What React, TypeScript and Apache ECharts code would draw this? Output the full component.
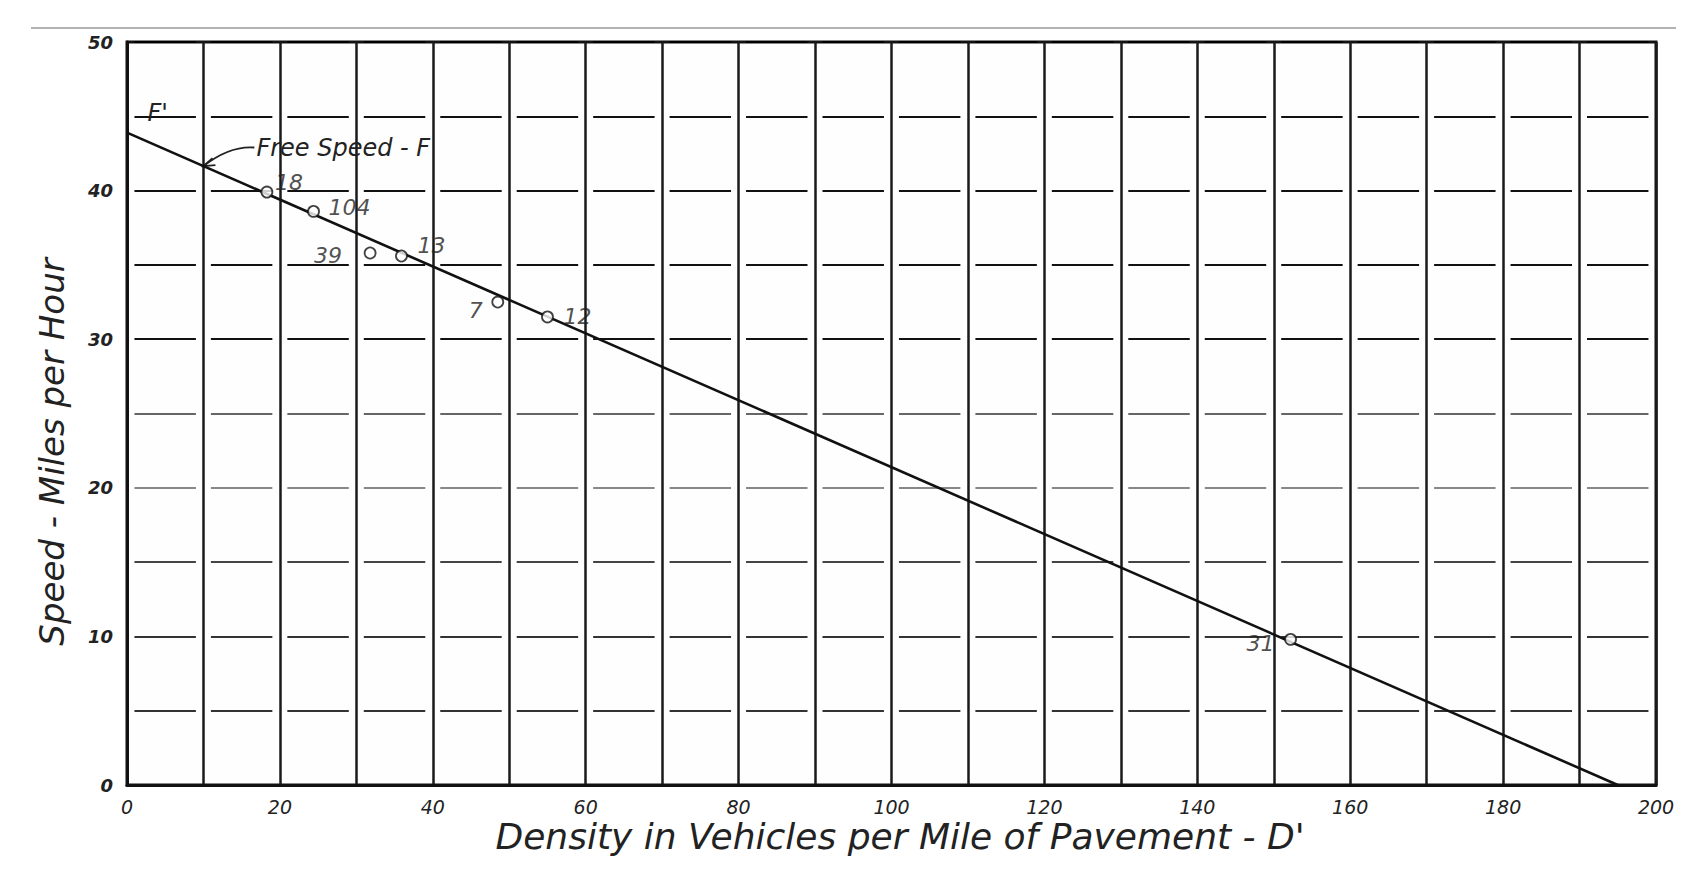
import React, { useEffect, useRef } from "react";
import * as echarts from "echarts";

// Observed points (density D', speed S)
const pointLabels = ["18", "104", "39", "13", "7", "12", "31"];
const pointDensity = [18.3, 24.4, 31.8, 35.9, 48.5, 55.0, 152.2];
const pointSpeed = [39.9, 38.6, 35.8, 35.6, 32.5, 31.5, 9.8];
// Fitted line endpoints
const lineDensity = [0, 195];
const lineSpeed = [43.9, 0];
// Axis ticks
const xTicks = [0, 20, 40, 60, 80, 100, 120, 140, 160, 180, 200];
const yTicks = [0, 10, 20, 30, 40, 50];

const xTitle = "Density in Vehicles per Mile of Pavement - D'";
const yTitle = "Speed - Miles per Hour";

const HAND = "'DejaVu Sans', sans-serif";

const GL = 127, GR = 1656, GT = 42, GB = 785;

export default function App() {
  const ref = useRef<HTMLDivElement>(null);
  useEffect(() => {
    document.body.style.margin = "0";
    const chart = echarts.init(ref.current!, undefined, { renderer: "svg" });
    const cellW = (GR - GL) / 20;
    const gap = 15;
    const labelOffsets: Record<string, [number, number]> = {
      "18": [22, -10],
      "104": [36, -4],
      "39": [-42, 2],
      "13": [30, -10],
      "7": [-22, 8],
      "12": [30, 0],
      "31": [-30, 4],
    };
    const hColors = ["#000", "#333", "#333", "#444", "#888", "#666", "#111", "#111", "#111", "#111", "#000"];
    chart.setOption({
      animation: false,
      backgroundColor: "#fff",
      grid: {
        left: GL,
        right: 1696 - GR,
        top: GT,
        bottom: 876 - GB,
        show: true,
        borderColor: "#111",
        borderWidth: 3,
        backgroundColor: "#fefefe",
      },
      xAxis: {
        type: "value",
        min: 0,
        max: 200,
        interval: 10,
        axisLine: { show: true, lineStyle: { color: "#111", width: 3 } },
        axisTick: { show: false },
        splitLine: { show: true, lineStyle: { color: "#1a1a1a", width: 2.5 } },
        axisLabel: {
          formatter: (v: number) => (xTicks.includes(v) ? String(v) : ""),
          color: "#222",
          fontFamily: HAND,
          fontStyle: "italic",
          fontSize: 19,
          margin: 12,
        },
      },
      yAxis: {
        type: "value",
        min: 0,
        max: 50,
        interval: 5,
        axisLine: { show: true, lineStyle: { color: "#111", width: 3 } },
        axisTick: { show: false },
        splitLine: {
          show: true,
          lineStyle: {
            color: hColors,
            width: 2.1,
            type: [cellW - gap, gap],
            dashOffset: cellW - gap / 2,
          },
        },
        axisLabel: {
          formatter: (v: number) => (yTicks.includes(v) ? String(v) : ""),
          color: "#222",
          fontFamily: HAND,
          fontStyle: "italic",
          fontWeight: "bold",
          fontSize: 18,
          margin: 14,
        },
      },
      series: [
        {
          type: "line",
          data: lineDensity.map((d, i) => [d, lineSpeed[i]]),
          symbol: "none",
          lineStyle: { color: "#111", width: 2.6 },
          z: 3,
        },
        {
          type: "scatter",
          data: pointDensity.map((d, i) => ({
            value: [d, pointSpeed[i]],
            name: pointLabels[i],
            label: {
              show: true,
              formatter: pointLabels[i],
              position: "inside",
              offset: labelOffsets[pointLabels[i]],
              color: "#222",
              fontFamily: HAND,
              fontStyle: "italic",
              fontSize: 22,
            },
          })),
          symbol: "circle",
          symbolSize: 11,
          itemStyle: { color: "#fff", borderColor: "#111", borderWidth: 1.8 },
          z: 4,
        },
      ],
    });

    const p = (d: number, s: number) => chart.convertToPixel({ gridIndex: 0 }, [d, s]) as number[];
    const arrowTip = p(10, 41.65);
    const textStart = p(16.4, 42.9);
    const fPrime = p(4.0, 45);
    chart.setOption({
      graphic: [
        { type: "line", shape: { x1: 31, y1: 28, x2: 1676, y2: 28 }, style: { stroke: "#999", lineWidth: 1.5 } },
        {
          type: "text",
          x: 900,
          y: 836,
          style: {
            text: xTitle,
            fontFamily: HAND,
            fontStyle: "italic",
            fontSize: 36,
            fill: "#222",
            align: "center",
            verticalAlign: "middle",
          },
        },
        {
          type: "text",
          x: 52,
          y: 452,
          rotation: Math.PI / 2,
          style: {
            text: yTitle,
            fontFamily: HAND,
            fontStyle: "italic",
            fontSize: 34,
            fill: "#222",
            align: "center",
            verticalAlign: "middle",
          },
        },
        {
          type: "text",
          x: textStart[0] + 4,
          y: textStart[1],
          style: {
            text: "Free Speed - F",
            fontFamily: HAND,
            fontStyle: "italic",
            fontSize: 24,
            fill: "#222",
            verticalAlign: "middle",
            align: "left",
          },
        },
        {
          type: "bezierCurve",
          shape: {
            x1: textStart[0] + 2,
            y1: textStart[1],
            cpx1: (textStart[0] + arrowTip[0]) / 2 + 2,
            cpy1: textStart[1] - 2,
            x2: arrowTip[0],
            y2: arrowTip[1],
          },
          style: { stroke: "#222", lineWidth: 1.8, fill: "none" },
        },
        {
          type: "polyline",
          shape: {
            points: [
              [arrowTip[0] + 9, arrowTip[1] - 8],
              [arrowTip[0], arrowTip[1]],
              [arrowTip[0] + 12, arrowTip[1] - 1],
            ],
          },
          style: { stroke: "#222", lineWidth: 1.8, fill: "none" },
        },
        {
          type: "text",
          x: fPrime[0],
          y: fPrime[1] - 3,
          style: {
            text: "F'",
            fontFamily: HAND,
            fontStyle: "italic",
            fontSize: 24,
            fill: "#222",
            verticalAlign: "middle",
            align: "center",
          },
        },
      ],
    });
    return () => chart.dispose();
  }, []);
  return (
    <div
      ref={ref}
      style={{ position: "absolute", left: 0, top: 0, width: 1696, height: 876 }}
    />
  );
}
